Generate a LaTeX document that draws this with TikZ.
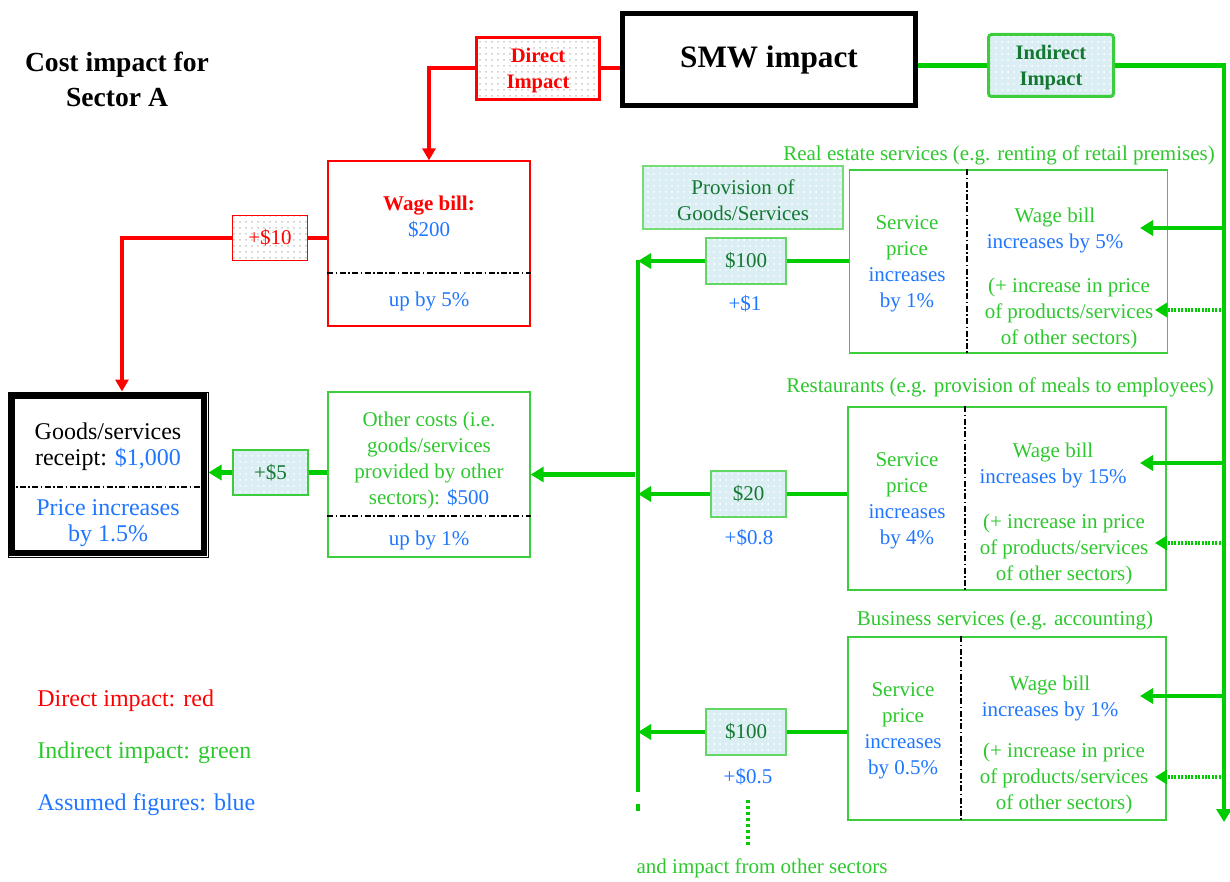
\documentclass[tikz,border=0pt]{standalone}
\usepackage{fontspec}
\setmainfont{Liberation Serif}
\usetikzlibrary{arrows.meta,patterns,calc}
\definecolor{cred}{RGB}{255,0,0}
\definecolor{gline}{RGB}{0,204,0}
\definecolor{gtext}{RGB}{45,200,45}
\definecolor{gbord}{RGB}{60,205,60}
\definecolor{dgreen}{RGB}{20,120,50}
\definecolor{cblue}{RGB}{31,118,255}
\definecolor{lblue}{RGB}{219,238,244}
\tikzset{
  every node/.style={font=\fontsize{10.5}{13}\selectfont, align=center, inner sep=0pt},
  txt/.style={yshift=-1.2pt},
  rbox/.style={draw=cred, line width=0.6pt},
  gbox/.style={draw=gbord, line width=0.7pt},
  dotbox/.style={preaction={fill=lblue}, pattern=dots, pattern color=white},
  greydot/.style={preaction={fill=white}, pattern=dots, pattern color=black!22},
  gl/.style={draw=gline, line width=2.3pt},
  rl/.style={draw=cred, line width=2pt},
  garrow/.style={gl, -{Triangle[length=6.5pt,width=7.5pt]}},
  rarrow/.style={rl, -{Triangle[length=6pt,width=6.5pt]}},
  gdot/.style={draw=gline, line width=2pt, dash pattern=on 1pt off 0.7pt, -{Triangle[length=6pt,width=7pt,sep=0pt]}},
  dashdot/.style={draw=black, line width=0.8pt, dash pattern=on 3pt off 1.2pt on 0.8pt off 1.2pt},
  dollar/.style={draw=gbord!80, line width=0.6pt, dotbox, text=dgreen, minimum height=23pt},
  sector/.style={gbox, minimum width=159pt, minimum height=91.5pt},
  big/.style={font=\fontsize{12}{13}\selectfont}
}
\begin{document}
\begin{tikzpicture}[x=0.5pt,y=-0.5pt]
\useasboundingbox (0,0) rectangle (1230,882);

% title
\node[txt, font=\fontsize{13.8}{17.5}\selectfont\bfseries] (title) at (117,77) {Cost impact for\\Sector A};

% top boxes
\node[draw=black, line width=2.5pt, minimum width=146.5pt, minimum height=46pt,
      font=\fontsize{15.6}{18}\selectfont\bfseries] (smw) at (769,59.5) {SMW impact};
\node[draw=cred, line width=1.5pt, greydot, minimum width=61.5pt, minimum height=31pt,
      text=cred, font=\fontsize{10.3}{13}\selectfont\bfseries] (direct) at (538,68.5) {};
\node[txt, text=cred, font=\fontsize{10.3}{13}\selectfont\bfseries] (directtxt) at (direct) {Direct\\Impact};
\node[draw=gbord, line width=1.5pt, rounded corners=1.5pt, dotbox, minimum width=62.5pt, minimum height=31pt] (indirect) at (1051,65.5) {};
\node[txt, text=dgreen, font=\fontsize{10.3}{13}\selectfont\bfseries] (indirecttxt) at (indirect) {Indirect\\Impact};

% wage bill box
\node[rbox, minimum width=101pt, minimum height=82.5pt] (wage) at (429,243.5) {};
\node[txt] (wagetxt) at (429,215) {\textcolor{cred}{\bfseries Wage bill:}\\\textcolor{cblue}{\$200}};
\draw[dashdot] ($(wage.west)+(0,29.5)$) -- ($(wage.east)+(0,29.5)$);
\node[txt, text=cblue] (wageup) at (429,299) {up by 5\%};

\node[draw=cred, line width=0.8pt, greydot, minimum width=37.5pt, minimum height=22.5pt, text=cred] (p10) at (270,238) {+\$10};

% goods box
\node[draw=black, line width=0.5pt, minimum width=100pt, minimum height=82.5pt] (goods) at (108,474.5) {};
\draw[black, line width=3.2pt] ($(goods.south west)+(4.5,-4.5)$) rectangle ($(goods.north east)+(-4.5,4.5)$);
\node[txt, big] (goodstxt) at (108,444) {Goods/services\\receipt: \textcolor{cblue}{\$1,000}};
\draw[dashdot] ($(goods.west)+(0,12.5)$) -- ($(goods.east)+(-8,12.5)$);
\node[txt, big, text=cblue] (goodsprice) at (108,521) {Price increases\\by 1.5\%};

\node[draw=gbord, line width=0.8pt, dotbox, minimum width=37.5pt, minimum height=22.5pt, text=dgreen] (p5) at (270.5,472.5) {+\$5};

% other costs box
\node[gbox, minimum width=101pt, minimum height=82.5pt] (other) at (429,474.5) {};
\node[txt, text=gtext] (othertxt) at (429,458) {Other costs (i.e.\\goods/services\\provided by other\\sectors): \textcolor{cblue}{\$500}};
\draw[dashdot] ($(other.west)+(0,41.5)$) -- ($(other.east)+(0,41.5)$);
\node[txt, text=cblue] (otherup) at (429,538) {up by 1\%};

% provision
\node[draw=gbord!70, line width=0.6pt, dotbox, minimum width=100pt, minimum height=31.5pt] (prov) at (743,197.5) {};
\node[txt, text=dgreen] (provtxt) at (prov) {Provision of\\Goods/Services};

% sector 1
\node[txt, text=gtext] (lab1) at (999,153) {Real estate services (e.g. renting of retail premises)};
\node[sector] (s1) at (1008.5,261.5) {};
\draw[dashdot] (967,0 |- s1.north) -- (967,0 |- s1.south);
\node[txt, text=gtext] (s1l) at (907,261) {Service\\price\\\textcolor{cblue}{increases}\\\textcolor{cblue}{by 1\%}};
\node[txt, text=gtext] (s1r) at (1055,228) {Wage bill\\\textcolor{cblue}{increases by 5\%}};
\node[txt, text=gtext] (s1o) at (1069,311) {(+ increase in price\\of products/services\\of other sectors)};
\node[dollar, minimum width=40pt] (d1) at (746,261) {\$100};
\node[txt, text=cblue] (d1p) at (745,301) {+\$1};

% sector 2
\node[txt, text=gtext] (lab2) at (1000,385) {Restaurants (e.g. provision of meals to employees)};
\node[sector] (s2) at (1007,498.5) {};
\draw[dashdot] (965,0 |- s2.north) -- (965,0 |- s2.south);
\node[txt, text=gtext] (s2l) at (907,498.5) {Service\\price\\\textcolor{cblue}{increases}\\\textcolor{cblue}{by 4\%}};
\node[txt, text=gtext] (s2r) at (1053,463.5) {Wage bill\\\textcolor{cblue}{increases by 15\%}};
\node[txt, text=gtext] (s2o) at (1064,547) {(+ increase in price\\of products/services\\of other sectors)};
\node[dollar, minimum width=37.5pt] (d2) at (748.5,494) {\$20};
\node[txt, text=cblue] (d2p) at (749,535) {+\$0.8};

% sector 3
\node[txt, text=gtext] (lab3) at (1005,618) {Business services (e.g. accounting)};
\node[sector] (s3) at (1007,728.5) {};
\draw[dashdot] (961,0 |- s3.north) -- (961,0 |- s3.south);
\node[txt, text=gtext] (s3l) at (903,728) {Service\\price\\\textcolor{cblue}{increases}\\\textcolor{cblue}{by 0.5\%}};
\node[txt, text=gtext] (s3r) at (1050,696) {Wage bill\\\textcolor{cblue}{increases by 1\%}};
\node[txt, text=gtext] (s3o) at (1064,776) {(+ increase in price\\of products/services\\of other sectors)};
\node[dollar, minimum width=40pt] (d3) at (746,732) {\$100};
\node[txt, text=cblue] (d3p) at (748,774) {+\$0.5};

\node[txt, text=gtext] (otherimp) at (762,866) {and impact from other sectors};

% legend
\node[txt, big, text=cred, anchor=west] (leg1) at (37,698) {Direct impact: red};
\node[txt, big, text=gtext, anchor=west] (leg2) at (37,750) {Indirect impact: green};
\node[txt, big, text=cblue, anchor=west] (leg3) at (37,802) {Assumed figures: blue};

% red connectors
\draw[rl] (direct.east) -- (direct.east -| smw.west);
\draw[rarrow] (direct.west) -| (wage.north);
\draw[rl] (p10.east) -- (p10.east -| wage.west);
\draw[rarrow] (p10.west) -| ($(goods.north)+(14,0)$);

% green right trunk
\coordinate (rtop) at (1224,65.5);
\coordinate (rbot) at (1224,822);
\draw[gl] (smw.east |- indirect.west) -- (indirect.west);
\draw[garrow] (indirect.east) -| (rbot);
\coordinate (w1) at (1140,228);
\coordinate (w2) at (1140,463);
\coordinate (w3) at (1140,696);
\coordinate (o1) at (1155,310);
\coordinate (o2) at (1155,543);
\coordinate (o3) at (1155,777);
\draw[garrow] (rtop |- w1) -- (w1);
\draw[garrow] (rtop |- w2) -- (w2);
\draw[garrow] (rtop |- w3) -- (w3);
\draw[gdot] (rtop |- o1) -- (o1);
\draw[gdot] (rtop |- o2) -- (o2);
\draw[gdot] (rtop |- o3) -- (o3);

% green left trunk
\coordinate (ltop) at (638,260);
\coordinate (lbot) at (638,792);
\coordinate (lend) at (638,811);
\draw[gl] (ltop) -- (lbot);
\draw[gl, dash pattern=on 0pt off 6pt on 3.5pt off 20pt] (lbot) -- (lend);
\draw[gl] (s1.west |- d1) -- (d1.east);
\draw[garrow] (d1.west) -- (d1.west -| ltop);
\draw[gl] (s2.west |- d2) -- (d2.east);
\draw[garrow] (d2.west) -- (d2.west -| ltop);
\draw[gl] (s3.west |- d3) -- (d3.east);
\draw[garrow] (d3.west) -- (d3.west -| ltop);
\draw[garrow] ($(other.east -| ltop)+(-3,0)$) -- (other.east);
\draw[gl] (other.west |- p5) -- (p5.east);
\draw[garrow] (p5.west) -- (p5.west -| goods.east);

% dotted to other sectors
\coordinate (dv1) at (748,800);
\coordinate (dv2) at (748,846);
\draw[draw=gline, line width=2pt, dash pattern=on 1.6pt off 1.4pt] (dv1) -- (dv2);
\end{tikzpicture}
\end{document}
